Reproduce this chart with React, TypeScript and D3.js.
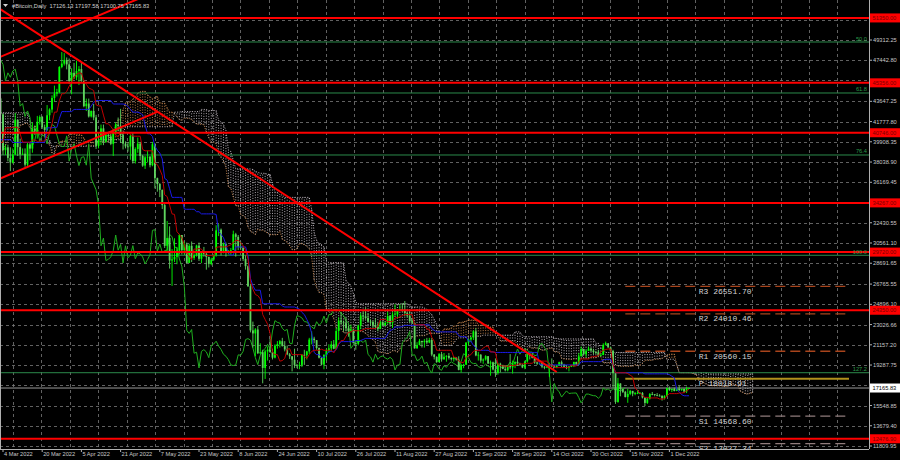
import React, { useMemo } from "react";
import * as d3 from "d3";

const W = 900;
const HGT = 460;
const PLOT_R = 869;
const PLOT_B = 449;

// [date, high, low, close] daily bars (open = previous close)
const bars: [string, number, number, number][] = [
  ["2021-12-14",48650,46550,48380],["2021-12-15",49450,46600,48870],["2021-12-16",49450,47530,47630],["2021-12-17",47990,45500,46130],
  ["2021-12-18",47270,45630,46830],["2021-12-19",48300,46400,46680],["2021-12-20",47480,45560,46910],["2021-12-21",49300,46640,48940],
  ["2021-12-22",49500,48460,48630],["2021-12-23",51340,48080,50820],["2021-12-24",51840,50330,50430],["2021-12-25",51180,50140,50800],
  ["2021-12-26",51240,49570,50640],["2021-12-27",52000,50520,50640],["2021-12-28",50650,47340,47590],["2021-12-29",48110,46120,46440],
  ["2021-12-30",47880,46020,47180],["2021-12-31",48500,45690,46300],
  ["2022-01-01",47830,46230,47690],["2022-01-02",47910,46700,47340],["2022-01-03",47560,45740,46460],["2022-01-04",47460,45550,45900],
  ["2022-01-05",47030,42650,43570],["2022-01-06",43740,42500,43160],["2022-01-07",43120,40750,41560],["2022-01-08",42300,40520,41730],
  ["2022-01-09",42750,41260,41910],["2022-01-10",42230,39700,41820],["2022-01-11",43090,41290,42740],["2022-01-12",44300,42470,43920],
  ["2022-01-13",44420,42350,42590],["2022-01-14",43410,41810,43100],["2022-01-15",43750,42680,43180],["2022-01-16",43460,42650,43110],
  ["2022-01-17",43200,41600,42250],["2022-01-18",42640,41300,42380],["2022-01-19",42540,41200,41680],["2022-01-20",43450,40620,40700],
  ["2022-01-21",41080,35500,36470],["2022-01-22",36800,34050,35080],["2022-01-23",36550,34660,36280],["2022-01-24",37000,33180,36700],
  ["2022-01-25",37530,36000,36980],["2022-01-26",38870,36600,36850],["2022-01-27",37200,35550,37140],["2022-01-28",38000,36200,37740],
  ["2022-01-29",38400,37400,38170],["2022-01-30",38300,37360,37920],["2022-01-31",38700,36700,38480],
  ["2022-02-01",39200,38100,38740],["2022-02-02",38800,36700,36950],["2022-02-03",37400,36300,37150],["2022-02-04",41720,37000,41570],
  ["2022-02-05",41900,40900,41380],["2022-02-06",42600,41100,42410],["2022-02-07",44400,42000,43840],["2022-02-08",45400,42700,44120],
  ["2022-02-09",44750,43200,44380],["2022-02-10",45800,43200,43570],["2022-02-11",43900,42000,42410],["2022-02-12",42950,41800,42240],
  ["2022-02-13",42700,41900,42200],["2022-02-14",42800,41600,42590],["2022-02-15",44700,42450,44580],["2022-02-16",44550,43400,43960],
  ["2022-02-17",44100,40100,40540],["2022-02-18",40900,39500,40000],["2022-02-19",40400,39700,40120],["2022-02-20",40100,38100,38430],
  ["2022-02-21",39400,36900,37070],["2022-02-22",38400,36400,38290],["2022-02-23",39200,37050,37300],["2022-02-24",38950,34400,38330],
  ["2022-02-25",39600,38100,39210],["2022-02-26",40100,38600,39110],["2022-02-27",39800,37100,37700],["2022-02-28",43700,37500,43190],
  ["2022-03-01",44950,42900,44420],["2022-03-02",45300,43400,43920],["2022-03-03",44100,41900,42450],["2022-03-04",42500,38700,39140],
  ["2022-03-05",39650,38700,39400],["2022-03-06",39650,38100,38420],["2022-03-07",39400,37200,37990],["2022-03-08",39300,37900,38730],
  ["2022-03-09",42550,38700,41940],["2022-03-10",41950,38600,39420],["2022-03-11",40200,38300,38730],["2022-03-12",39300,38700,38810],
  ["2022-03-13",39300,37600,37790],["2022-03-14",39850,37600,39670],["2022-03-15",39800,38200,39280],["2022-03-16",41700,38900,41110],
  ["2022-03-17",41400,40550,40920],["2022-03-18",42300,40200,41760],["2022-03-19",42350,41500,42200],["2022-03-20",42300,41100,41260],
  ["2022-03-21",41500,40500,41000],["2022-03-22",43300,40900,42360],["2022-03-23",43000,41900,42890],["2022-03-24",44200,42600,43960],
  ["2022-03-25",45100,43600,44350],["2022-03-26",44800,44100,44500],["2022-03-27",46900,44400,46820],["2022-03-28",48200,46700,47130],
  ["2022-03-29",48100,46950,47470],["2022-03-30",47700,46600,47060],["2022-03-31",47600,45250,45530],
  ["2022-04-01",46700,44300,46280],["2022-04-02",47200,45700,45870],["2022-04-03",47400,45600,46450],["2022-04-04",46900,45150,46620],
  ["2022-04-05",47200,45450,45550],["2022-04-06",45500,43100,43200],["2022-04-07",43900,42750,43440],["2022-04-08",43900,42150,42250],
  ["2022-04-09",42800,42150,42760],["2022-04-10",43400,41900,42160],["2022-04-11",42400,39250,39530],["2022-04-12",40700,39300,40070],
  ["2022-04-13",41500,39600,41150],["2022-04-14",41500,39600,39940],["2022-04-15",40700,39800,40550],["2022-04-16",40700,40050,40410],
  ["2022-04-17",40600,39600,39720],["2022-04-18",41100,38600,40830],["2022-04-19",41700,40600,41500],["2022-04-20",42150,40900,41370],
  ["2022-04-21",42950,39800,40530],["2022-04-22",40800,39200,39740],["2022-04-23",39950,39300,39480],["2022-04-24",39900,39000,39470],
  ["2022-04-25",40600,38250,40460],["2022-04-26",40750,37900,38120],["2022-04-27",39400,37900,39240],["2022-04-28",40300,38900,39740],
  ["2022-04-29",39900,38200,38600],["2022-04-30",38700,37600,37710],
  ["2022-05-01",38600,37400,38470],["2022-05-02",39100,38000,38530],["2022-05-03",38600,37550,37750],["2022-05-04",39900,37650,39690],
  ["2022-05-05",39800,35600,36550],["2022-05-06",36600,35300,36010],["2022-05-07",36100,34800,35470],["2022-05-08",35500,33700,34060],
  ["2022-05-09",34200,30100,30300],["2022-05-10",32600,29800,31020],["2022-05-11",32100,28200,28940],["2022-05-12",30000,26600,29050],
  ["2022-05-13",31000,28800,29280],["2022-05-14",30200,28600,29860],["2022-05-15",31400,29500,31300],["2022-05-16",31300,29500,29900],
  ["2022-05-17",30700,29500,30430],["2022-05-18",30600,28700,28720],["2022-05-19",30500,28700,30300],["2022-05-20",30700,28800,29190],
  ["2022-05-21",29600,29000,29430],["2022-05-22",30400,29300,30320],["2022-05-23",30600,28900,29100],["2022-05-24",29800,28700,29650],
  ["2022-05-25",30200,29300,29560],["2022-05-26",29800,28100,29270],["2022-05-27",29300,28300,28630],["2022-05-28",29200,28500,29030],
  ["2022-05-29",29500,28900,29470],["2022-05-30",32200,29300,31730],["2022-05-31",32300,31200,31790],
  ["2022-06-01",31900,29400,29800],["2022-06-02",30600,29600,30470],["2022-06-03",30600,29300,29700],["2022-06-04",29900,29500,29860],
  ["2022-06-05",30100,29500,29910],["2022-06-06",31700,29900,31370],["2022-06-07",31500,29300,31130],["2022-06-08",31300,29900,30210],
  ["2022-06-09",30700,29900,30110],["2022-06-10",30300,28900,29090],["2022-06-11",29400,28100,28420],["2022-06-12",28500,26500,26570],
  ["2022-06-13",26800,22300,22490],["2022-06-14",23300,20900,22210],["2022-06-15",22700,20100,22570],["2022-06-16",22900,20300,20380],
  ["2022-06-17",21300,20300,20470],["2022-06-18",20700,17600,19020],["2022-06-19",20700,18000,20550],["2022-06-20",21000,19700,20710],
  ["2022-06-21",21700,20400,20500],["2022-06-22",20800,19800,19970],["2022-06-23",21200,19900,21090],["2022-06-24",21500,20800,21230],
  ["2022-06-25",21600,20900,21490],["2022-06-26",21800,21000,21040],["2022-06-27",21500,20550,20730],["2022-06-28",21100,20200,20280],
  ["2022-06-29",20400,19850,20100],["2022-06-30",20100,18700,19780],
  ["2022-07-01",20800,19000,19300],["2022-07-02",19400,19000,19240],["2022-07-03",19600,18900,19300],["2022-07-04",20300,19100,20230],
  ["2022-07-05",20700,19300,20190],["2022-07-06",20600,19800,20550],["2022-07-07",21800,20300,21640],["2022-07-08",22400,21200,21730],
  ["2022-07-09",21900,21300,21590],["2022-07-10",21600,20700,20860],["2022-07-11",20900,19900,19970],["2022-07-12",20000,19250,19330],
  ["2022-07-13",20300,18900,20210],["2022-07-14",20800,19700,20590],["2022-07-15",21200,20400,20830],["2022-07-16",21500,20500,21200],
  ["2022-07-17",21600,20750,20790],["2022-07-18",22700,20800,22430],["2022-07-19",23700,21600,23390],["2022-07-20",24200,23000,23230],
  ["2022-07-21",23400,22400,23160],["2022-07-22",23700,22400,22680],["2022-07-23",22900,21900,22460],["2022-07-24",23000,22300,22580],
  ["2022-07-25",22600,21300,21310],["2022-07-26",21400,20700,21250],["2022-07-27",23000,21100,22950],["2022-07-28",24100,22600,23850],
  ["2022-07-29",24400,23400,23780],["2022-07-30",24600,23500,23640],["2022-07-31",24100,23200,23300],
  ["2022-08-01",23500,22900,23270],["2022-08-02",23400,22700,22990],["2022-08-03",23600,22700,22820],["2022-08-04",23200,22400,22630],
  ["2022-08-05",23400,22600,23290],["2022-08-06",23300,22900,22960],["2022-08-07",23300,22900,23180],["2022-08-08",24200,23100,23810],
  ["2022-08-09",23900,22900,23160],["2022-08-10",24200,22700,23950],["2022-08-11",24900,23900,23950],["2022-08-12",24450,23600,24400],
  ["2022-08-13",24900,24300,24440],["2022-08-14",25000,24200,24310],["2022-08-15",25200,23800,24100],["2022-08-16",24200,23700,23850],
  ["2022-08-17",24400,23200,23340],["2022-08-18",23600,23100,23190],["2022-08-19",23200,20800,20830],["2022-08-20",21400,20800,21140],
  ["2022-08-21",21700,21100,21520],["2022-08-22",21500,20900,21400],["2022-08-23",21700,20900,21530],["2022-08-24",21800,21200,21370],
  ["2022-08-25",21800,21300,21600],["2022-08-26",21800,20100,20260],["2022-08-27",20300,19800,20040],["2022-08-28",20100,19500,19550],
  ["2022-08-29",20400,19600,20290],["2022-08-30",20500,19600,19810],["2022-08-31",20400,19800,20050],
  ["2022-09-01",20200,19600,20130],["2022-09-02",20400,19800,19950],["2022-09-03",20000,19700,19830],["2022-09-04",20050,19600,20000],
  ["2022-09-05",20000,19700,19800],["2022-09-06",20100,18800,18840],["2022-09-07",19400,18600,19290],["2022-09-08",19400,19000,19320],
  ["2022-09-09",21400,19300,21360],["2022-09-10",21700,21100,21650],["2022-09-11",21900,21400,21830],["2022-09-12",22500,21600,22400],
  ["2022-09-13",22700,20100,20180],["2022-09-14",20500,19700,20240],["2022-09-15",20300,19500,19700],["2022-09-16",19900,19400,19800],
  ["2022-09-17",20200,19700,20110],["2022-09-18",20100,19400,19420],["2022-09-19",19700,18300,19540],["2022-09-20",19600,18800,18880],
  ["2022-09-21",19900,18200,18550],["2022-09-22",19500,18400,19410],["2022-09-23",19500,18600,19300],["2022-09-24",19300,18900,18930],
  ["2022-09-25",19200,18700,18800],["2022-09-26",19300,18700,19220],["2022-09-27",20300,18900,19080],["2022-09-28",19700,18500,19410],
  ["2022-09-29",19600,19000,19590],["2022-09-30",20100,19200,19430],
  ["2022-10-01",19500,19200,19310],["2022-10-02",19400,19000,19060],["2022-10-03",19700,18900,19620],["2022-10-04",20400,19500,20340],
  ["2022-10-05",20400,19800,20160],["2022-10-06",20400,19900,19960],["2022-10-07",20000,19400,19530],["2022-10-08",19600,19300,19420],
  ["2022-10-09",19500,19300,19450],["2022-10-10",19500,19000,19140],["2022-10-11",19200,18900,19050],["2022-10-12",19200,19000,19160],
  ["2022-10-13",19500,18200,19380],["2022-10-14",19900,19100,19180],["2022-10-15",19200,19000,19070],["2022-10-16",19300,19000,19260],
  ["2022-10-17",19600,19200,19550],["2022-10-18",19700,19100,19330],["2022-10-19",19400,19100,19120],["2022-10-20",19300,18900,19040],
  ["2022-10-21",19200,18700,19170],["2022-10-22",19250,19100,19200],["2022-10-23",19600,19100,19570],["2022-10-24",19600,19200,19330],
  ["2022-10-25",20400,19300,20090],["2022-10-26",21000,20100,20770],["2022-10-27",20800,20200,20290],["2022-10-28",20700,20000,20600],
  ["2022-10-29",21000,20600,20810],["2022-10-30",20900,20500,20630],["2022-10-31",20800,20300,20490],
  ["2022-11-01",20600,20300,20480],["2022-11-02",20700,20100,20150],["2022-11-03",20400,20100,20210],["2022-11-04",21300,20200,21150],
  ["2022-11-05",21450,21100,21300],["2022-11-06",21300,20900,20910],["2022-11-07",21000,20400,20600],["2022-11-08",20700,17200,18540],
  ["2022-11-09",18600,15700,15880],["2022-11-10",18100,15800,17590],["2022-11-11",17600,16400,17070],["2022-11-12",17100,16700,16810],
  ["2022-11-13",16900,16300,16330],["2022-11-14",17100,15800,16620],["2022-11-15",17000,16500,16900],["2022-11-16",16900,16400,16660],
  ["2022-11-17",16800,16500,16690],["2022-11-18",17000,16600,16700],["2022-11-19",16800,16600,16710],["2022-11-20",16800,16200,16290],
  ["2022-11-21",16300,15500,15790],["2022-11-22",16300,15700,16190],["2022-11-23",16700,16100,16610],["2022-11-24",16800,16500,16600],
  ["2022-11-25",16600,16400,16520],["2022-11-26",16700,16400,16460],["2022-11-27",16600,16400,16440],["2022-11-28",16500,16000,16220],
  ["2022-11-29",16500,16100,16440],["2022-11-30",17200,16400,17170],
  ["2022-12-01",17300,16900,16980],["2022-12-02",17100,16800,17090],["2022-12-03",17200,16850,16890],["2022-12-04",17200,16880,17110],
  ["2022-12-05",17400,16900,16970],["2022-12-06",17100,16900,17090],["2022-12-07",17100,16700,16840],["2022-12-08",17300,16700,17126.13],
  ["2022-12-09",17197.58,17100.75,17165.83],
];

// tick labels visible on the price scale
const priceTicks = [49312.25, 47442.80, 43647.25, 41777.80, 39908.35, 38038.90, 36169.45, 32430.55,
  30561.10, 28691.65, 26765.55, 24896.10, 23026.66, 21157.20, 19287.75, 15548.85, 13679.40, 11809.95];
// grid rows hidden behind the level labels
const hiddenGrid = [51181.70, 45573.35, 34300.00, 17418.30];
const timeTicks = ["2022-03-04","2022-03-20","2022-04-05","2022-04-21","2022-05-07","2022-05-23","2022-06-08","2022-06-24",
  "2022-07-10","2022-07-26","2022-08-11","2022-08-27","2022-09-12","2022-09-28","2022-10-14","2022-10-30","2022-11-15","2022-12-01"];
const redLevels = [51350.00, 45356.00, 40746.00, 34267.00, 29720.00, 24350.00, 12476.90];
const fibValues = [49127, 44417, 38690, 29428, 18579];
const fibLabels = ["50.0", "61.8", "76.4", "100.0", "127.2"];
const pivotNames = ["R3", "R2", "R1", "P", "S1", "S2"];
const pivotValues = [26551.70, 24010.46, 20560.15, 18018.91, 14568.60, 12027.34];
const pivotFrom = "2022-11-13";
const pivotLabelAt = "2022-12-13";
const trendLines: [string, number, string, number][] = [
  ["2022-03-03", 52142, "2022-10-16", 18645],
  ["2022-03-01", 47576, "2022-05-01", 53376],
  ["2022-03-02", 36428, "2022-05-06", 42670],
];
const symbol = "#Bitcoin,Daily";

const parse = (s: string) => new Date(s + "T00:00:00Z");

export default function App() {
  const x = d3.scaleUtc().domain([parse("2022-03-04"), parse("2022-12-01")]).range([3, 669.4]);
  const y = d3.scaleLinear().domain([11809.95, 49312.25]).range([446, 40]);

  const calc = useMemo(() => {
    const n = bars.length;
    const dates = bars.map((b) => parse(b[0]));
    const hi = bars.map((b) => b[1]);
    const lo = bars.map((b) => b[2]);
    const cl = bars.map((b) => b[3]);
    const op = cl.map((c, i) => (i === 0 ? c : cl[i - 1]));
    const mid = (i: number, p: number) => {
      if (i < p - 1) return NaN;
      let h = -Infinity, l = Infinity;
      for (let k = i - p + 1; k <= i; k++) { h = Math.max(h, hi[k]); l = Math.min(l, lo[k]); }
      return (h + l) / 2;
    };
    const tenkan = d3.range(n).map((i) => mid(i, 9));
    const kijun = d3.range(n).map((i) => mid(i, 26));
    const cloud: { d: Date; a: number; b: number }[] = [];
    for (let i = 51; i < n; i++) {
      cloud.push({ d: d3.utcDay.offset(dates[i], 26), a: (tenkan[i] + kijun[i]) / 2, b: mid(i, 52) });
    }
    const chikou: { d: Date; v: number }[] = [];
    for (let i = 26; i < n; i++) chikou.push({ d: dates[i - 26], v: cl[i] });
    return { n, dates, hi, lo, cl, op, tenkan, kijun, cloud, chikou };
  }, []);

  const startD = parse("2022-03-01");
  const visIdx = d3.range(calc.n).filter((i) => calc.dates[i] >= startD);
  const cloudVis = calc.cloud.filter((c) => c.d >= startD);
  const chikVis = calc.chikou.filter((c) => c.d >= startD);

  const lineT = d3.line<number>().x((i) => x(calc.dates[i])).y((i) => y(calc.tenkan[i]));
  const lineK = d3.line<number>().x((i) => x(calc.dates[i])).y((i) => y(calc.kijun[i]));
  const lineA = d3.line<{ d: Date; a: number; b: number }>().x((c) => x(c.d)).y((c) => y(c.a));
  const lineB = d3.line<{ d: Date; a: number; b: number }>().x((c) => x(c.d)).y((c) => y(c.b));
  const lineC = d3.line<{ d: Date; v: number }>().x((c) => x(c.d)).y((c) => y(c.v));

  const vGrid = d3.range(0, 30).map((k) => 13 + k * 28.43);
  const fmtDate = d3.utcFormat("%-d %b %Y");
  const last = bars.length - 1;
  const title = `${symbol}  ${calc.op[last].toFixed(2)} ${calc.hi[last].toFixed(2)} ${calc.lo[last].toFixed(2)} ${calc.cl[last].toFixed(2)}`;
  const lastClose = calc.cl[last];
  const font = "'Liberation Sans', Arial, sans-serif";
  const fs = 5.7;
  const pivX1 = x(parse(pivotFrom));
  const pivLX = x(parse(pivotLabelAt));
  const gridRows = [...priceTicks, ...hiddenGrid];

  return (
    <svg width={W} height={HGT} style={{ position: "absolute", left: 0, top: 0, background: "#000" }}>
      <defs>
        <clipPath id="plot"><rect x={0} y={0} width={PLOT_R} height={PLOT_B} /></clipPath>
      </defs>
      <rect x={0} y={0} width={W} height={HGT} fill="#000" />
      <g clipPath="url(#plot)">
        {gridRows.map((p, i) => (
          <line key={"hg" + i} x1={0} x2={PLOT_R} y1={Math.round(y(p)) + 0.5} y2={Math.round(y(p)) + 0.5}
            stroke="#7a7a7a" strokeWidth={0.8} strokeDasharray="3 3" />
        ))}
        {vGrid.map((gx, i) => (
          <line key={"vg" + i} x1={Math.round(gx) + 0.5} x2={Math.round(gx) + 0.5} y1={0} y2={PLOT_B}
            stroke="#7a7a7a" strokeWidth={0.8} strokeDasharray="3 3" />
        ))}
        {cloudVis.map((c, i) => (
          <line key={"cl" + i} x1={x(c.d)} x2={x(c.d)} y1={y(c.a)} y2={y(c.b)}
            stroke={c.a >= c.b ? "#c8874e" : "#c4bcc4"} strokeWidth={0.9} strokeDasharray="1 1.6" />
        ))}
        <path d={lineA(cloudVis) || ""} fill="none" stroke="#c8874e" strokeWidth={1} strokeDasharray="1 1.5" />
        <path d={lineB(cloudVis) || ""} fill="none" stroke="#c4bcc4" strokeWidth={1} strokeDasharray="1 1.5" />
        {fibValues.map((p, i) => (
          <line key={"fb" + i} x1={0} x2={PLOT_R} y1={y(p)} y2={y(p)} stroke="#2b8a4b" strokeWidth={1} />
        ))}
        <line x1={0} x2={PLOT_R} y1={y(lastClose)} y2={y(lastClose)} stroke="#9a9a9a" strokeWidth={1} />
        {pivotValues.map((p, i) => (
          <line key={"pv" + i} x1={pivX1} x2={PLOT_R - 20} y1={y(p)} y2={y(p)}
            stroke={pivotNames[i] === "P" ? "#b0901c" : pivotNames[i].startsWith("R") ? "#a8441c" : "#907c7c"}
            strokeWidth={pivotNames[i] === "P" ? 2 : 1.3} strokeDasharray={pivotNames[i] === "P" ? undefined : "10 5"} />
        ))}
        <path d={lineC(chikVis) || ""} fill="none" stroke="#1fae1f" strokeWidth={1} />
        {visIdx.map((i) => {
          const cx = x(calc.dates[i]);
          const o = calc.op[i], c = calc.cl[i];
          const bull = c >= o;
          const col = bull ? "#00ff00" : "#5fd35f";
          const top = y(Math.max(o, c)), bot = y(Math.min(o, c));
          return (
            <g key={"c" + i}>
              <line x1={cx} x2={cx} y1={y(Math.max(calc.hi[i], o, c))} y2={y(Math.min(calc.lo[i], o, c))} stroke={col} strokeWidth={0.9} />
              <rect x={cx - 0.9} y={top} width={1.8} height={Math.max(0.8, bot - top)} fill={col} />
            </g>
          );
        })}
        <path d={lineK(visIdx) || ""} fill="none" stroke="#1a1ae6" strokeWidth={1} />
        <path d={lineT(visIdx) || ""} fill="none" stroke="#c00000" strokeWidth={1} />
        {redLevels.map((p, i) => (
          <line key={"rl" + i} x1={0} x2={PLOT_R} y1={y(p)} y2={y(p)} stroke="#ff0000" strokeWidth={2} />
        ))}
        {trendLines.map((t, i) => (
          <line key={"tl" + i} x1={x(parse(t[0]))} y1={y(t[1])} x2={x(parse(t[2]))} y2={y(t[3])} stroke="#ff0000" strokeWidth={2} />
        ))}
        {fibValues.map((p, i) => (
          <text key={"fl" + i} x={PLOT_R - 2} y={y(p) - 1.5} fill="#2b9a4b" fontSize={fs} fontFamily={font} textAnchor="end">{fibLabels[i]}</text>
        ))}
        {pivotValues.map((p, i) => (
          <text key={"pl" + i} x={pivLX} y={y(p) + 7.5} fill="#d4d4d4" fontSize={8} fontFamily="'Liberation Mono', 'DejaVu Sans Mono', monospace">
            {`${pivotNames[i]} ${p.toFixed(2)}`}
          </text>
        ))}
      </g>
      <line x1={PLOT_R + 0.5} x2={PLOT_R + 0.5} y1={0} y2={PLOT_B} stroke="#b0b0b0" strokeWidth={1} />
      <line x1={0} x2={PLOT_R} y1={PLOT_B + 0.5} y2={PLOT_B + 0.5} stroke="#b0b0b0" strokeWidth={1} />
      <line x1={0.5} x2={0.5} y1={0} y2={PLOT_B} stroke="#b0b0b0" strokeWidth={1} />
      {gridRows.map((p, i) => (
        <line key={"ptk" + i} x1={PLOT_R} x2={PLOT_R + 3} y1={y(p)} y2={y(p)} stroke="#b0b0b0" />
      ))}
      {priceTicks.map((p, i) => (
        <text key={"pt" + i} x={873} y={y(p)} dy="0.35em" fill="#c8c8c8" fontSize={fs} fontFamily={font}>{p.toFixed(2)}</text>
      ))}
      {redLevels.map((p, i) => (
        <g key={"rlab" + i}>
          <rect x={870} y={y(p) - 4.5} width={30} height={9} fill="#ff0000" />
          <text x={872.5} y={y(p)} dy="0.35em" fill="#7a0000" fontSize={fs} fontFamily={font}>{p.toFixed(2)}</text>
        </g>
      ))}
      <rect x={870} y={y(lastClose) - 4.5} width={30} height={9} fill="#ffffff" />
      <text x={872.5} y={y(lastClose)} dy="0.35em" fill="#000" fontSize={fs} fontFamily={font}>{lastClose.toFixed(2)}</text>
      {timeTicks.map((t, i) => {
        const tx = x(parse(t));
        return (
          <g key={"tt" + i}>
            <line x1={tx} x2={tx} y1={PLOT_B} y2={PLOT_B + 3} stroke="#b0b0b0" />
            <text x={tx + 1} y={456} fill="#c8c8c8" fontSize={fs} fontFamily={font}>{fmtDate(parse(t))}</text>
          </g>
        );
      })}
      <polygon points="3,4 8,4 5.5,7" fill="#d0d0d0" />
      <text x={12} y={8} fill="#d0d0d0" fontSize={fs} fontFamily={font} style={{ whiteSpace: "pre" }}>{title}</text>
    </svg>
  );
}
